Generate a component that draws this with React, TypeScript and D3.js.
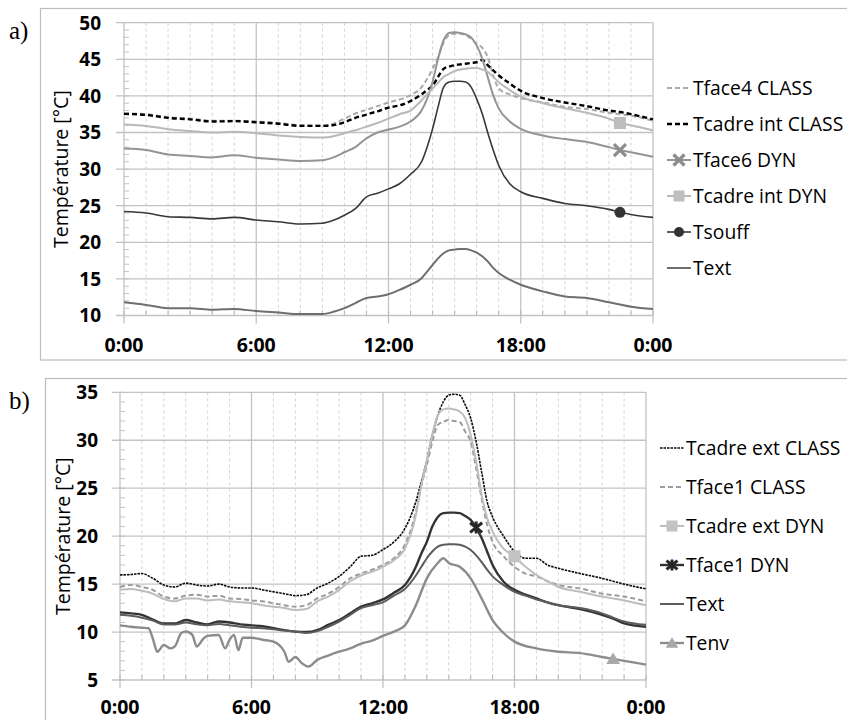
import React from "react";
import * as d3 from "d3";

// ---------- Panel a data ----------
const hoursA = [0, 1, 2, 3, 4, 5, 6, 7, 8, 9, 9.5, 10, 10.5, 11, 11.5, 12, 12.5, 13, 13.5, 13.75, 14, 14.25, 14.5, 14.75, 15, 15.25, 15.5, 15.75, 16, 16.25, 16.5, 16.75, 17, 17.5, 18, 19, 20, 21, 22, 22.5, 23, 24];
const tface4ClassA = [37.6, 37.5, 37.1, 36.9, 36.6, 36.6, 36.5, 36.3, 36.0, 35.95, 36.2, 36.9, 37.6, 38.1, 38.6, 39.1, 39.5, 40.1, 41.2, 42.3, 43.7, 45.3, 47.3, 48.3, 48.5, 48.5, 48.3, 47.8, 47.1, 46.6, 45.3, 42.8, 41.0, 40.2, 39.7, 39.1, 38.5, 38.2, 37.7, 37.5, 37.3, 36.6];
const tcadreIntClassA = [37.55, 37.4, 37.0, 36.8, 36.5, 36.55, 36.4, 36.2, 35.9, 35.9, 36.0, 36.4, 37.0, 37.45, 37.9, 38.4, 38.7, 39.3, 40.2, 40.8, 41.4, 42.6, 43.7, 44.0, 44.2, 44.3, 44.4, 44.5, 44.6, 44.9, 44.2, 43.5, 42.8, 41.7, 40.7, 39.7, 39.1, 38.6, 38.0, 37.8, 37.5, 36.8];
const tface6DynA = [32.8, 32.6, 32.0, 31.8, 31.6, 31.9, 31.55, 31.3, 31.1, 31.2, 31.6, 32.3, 33.0, 34.2, 35.0, 35.4, 35.8, 36.5, 38.0, 39.6, 41.9, 45.1, 47.6, 48.6, 48.7, 48.6, 48.4, 48.0, 46.9, 45.1, 42.6, 40.1, 38.3, 36.5, 35.5, 34.6, 34.1, 33.7, 33.0, 32.6, 32.3, 31.7];
const tcadreIntDynA = [36.1, 35.9, 35.45, 35.2, 35.0, 35.1, 34.9, 34.6, 34.4, 34.3, 34.5, 34.9, 35.3, 35.8, 36.3, 36.9, 37.5, 38.0, 39.4, 40.2, 41.0, 41.8, 42.6, 43.0, 43.4, 43.6, 43.7, 43.8, 43.8, 43.6, 43.3, 42.6, 41.9, 40.8, 39.9, 39.0, 38.3, 37.7, 36.9, 36.3, 36.0, 35.3];
const tsouffA = [24.2, 24.0, 23.5, 23.4, 23.2, 23.4, 23.05, 22.8, 22.5, 22.6, 23.0, 23.7, 24.6, 26.2, 26.7, 27.3, 28.0, 29.3, 31.0, 33.0, 35.5, 38.5, 41.2, 41.9, 42.0, 42.0, 41.9, 41.2, 39.6, 37.6, 35.0, 32.6, 30.5, 28.0, 26.9, 26.0, 25.3, 25.0, 24.5, 24.1, 23.8, 23.4];
const textA = [11.8, 11.45, 11.0, 11.0, 10.8, 10.9, 10.6, 10.4, 10.2, 10.2, 10.5, 11.0, 11.7, 12.4, 12.6, 12.9, 13.5, 14.2, 15.1, 16.0, 16.9, 17.8, 18.5, 18.9, 19.0, 19.1, 19.1, 18.9, 18.6, 18.1, 17.4, 16.5, 15.8, 14.9, 14.2, 13.3, 12.6, 12.4, 11.8, 11.5, 11.2, 10.9];

// ---------- Panel b data ----------
const hoursB = [0, 0.5, 1, 1.5, 2, 2.5, 3, 3.5, 4, 4.5, 5, 5.5, 6, 6.5, 7, 7.5, 8, 8.5, 9, 9.5, 10, 10.5, 11, 11.5, 12, 12.5, 13, 13.5, 13.75, 14, 14.25, 14.5, 14.75, 15, 15.25, 15.5, 15.75, 16, 16.25, 16.5, 16.75, 17, 17.5, 18, 18.5, 19, 19.5, 20, 21, 22, 22.5, 23, 24];
const tcadreExtClassB = [15.95, 16.0, 16.1, 15.6, 14.9, 14.7, 15.1, 14.9, 14.8, 15.0, 14.7, 14.6, 14.6, 14.4, 14.2, 14.0, 13.8, 13.9, 14.6, 15.1, 15.8, 16.8, 17.9, 18.0, 18.6, 19.4, 20.8, 23.6, 25.7, 27.9, 30.55, 32.6, 34.0, 34.7, 34.8, 34.7, 33.7, 32.3, 29.85, 26.7, 23.6, 22.0, 20.0, 18.4, 17.7, 17.7, 17.0, 16.65, 16.1, 15.6, 15.3, 15.0, 14.5];
const tface1ClassB = [14.7, 14.9, 14.7, 14.4, 13.7, 13.5, 13.8, 13.9, 13.7, 13.8, 13.5, 13.45, 13.3, 13.2, 13.0, 12.8, 12.65, 12.8, 13.5, 14.0, 14.7, 15.6, 16.1, 16.5, 17.0, 17.7, 19.1, 22.55, 25.3, 27.4, 29.85, 31.6, 31.9, 32.1, 32.0, 31.9, 30.9, 29.85, 27.1, 23.95, 21.2, 19.4, 17.9, 16.8, 16.1, 15.8, 15.3, 14.9, 14.55, 14.0, 13.85, 13.7, 13.2];
const tcadreExtDynB = [14.4, 14.5, 14.3, 14.0, 13.45, 13.2, 13.5, 13.5, 13.3, 13.4, 13.2, 13.1, 13.0, 12.8, 12.65, 12.5, 12.3, 12.4, 13.2, 13.7, 14.4, 15.3, 15.9, 16.3, 16.8, 17.5, 18.7, 22.2, 25.3, 27.9, 30.55, 32.6, 33.2, 33.3, 33.2, 33.0, 32.3, 30.55, 27.8, 24.3, 21.9, 20.5, 18.7, 17.9, 16.8, 15.95, 15.3, 14.7, 14.2, 13.7, 13.5, 13.3, 12.8];
const tface1DynB = [12.05, 11.95, 11.8, 11.3, 10.9, 10.9, 11.25, 11.0, 10.8, 11.1, 11.0, 10.8, 10.7, 10.6, 10.4, 10.2, 10.05, 10.0, 10.2, 10.75, 11.25, 11.95, 12.65, 13.0, 13.4, 14.1, 14.9, 16.8, 18.2, 19.4, 21.0, 22.0, 22.4, 22.45, 22.45, 22.4, 22.1, 21.7, 20.9, 19.8, 18.4, 17.0, 15.25, 14.4, 13.9, 13.5, 13.1, 12.8, 12.4, 11.8, 11.4, 10.9, 10.55];
const textB = [11.8, 11.7, 11.5, 11.2, 10.8, 10.8, 11.0, 10.8, 10.7, 10.85, 10.7, 10.55, 10.45, 10.4, 10.3, 10.15, 10.05, 9.9, 10.1, 10.55, 11.1, 11.8, 12.5, 12.8, 13.1, 13.8, 14.5, 15.9, 16.8, 17.7, 18.4, 18.9, 19.1, 19.15, 19.15, 19.1, 18.9, 18.55, 18.0, 17.3, 16.5, 15.8, 14.9, 14.2, 13.8, 13.4, 13.1, 12.8, 12.5, 11.95, 11.5, 11.1, 10.75];
const hoursTenvB = [0, 0.5, 1, 1.3, 1.5, 1.7, 2, 2.3, 2.5, 2.8, 3, 3.3, 3.5, 3.8, 4, 4.5, 4.8, 5, 5.2, 5.4, 5.6, 6, 6.5, 7, 7.5, 7.7, 8, 8.3, 8.6, 9, 9.5, 10, 10.5, 11, 11.5, 12, 12.5, 13, 13.5, 14, 14.5, 14.75, 15, 15.5, 16, 16.5, 17, 17.5, 18, 19, 20, 21, 22, 22.5, 23, 24];
const tenvB = [10.7, 10.55, 10.45, 10.4, 9.3, 7.95, 8.65, 8.3, 8.5, 9.9, 10.05, 9.7, 8.5, 9.3, 9.6, 9.7, 8.3, 9.2, 9.7, 8.1, 9.4, 9.4, 9.2, 9.0, 7.95, 6.9, 7.4, 6.75, 6.4, 7.1, 7.55, 7.95, 8.3, 8.8, 9.1, 9.6, 10.05, 10.7, 12.8, 15.6, 17.2, 17.7, 17.2, 16.8, 15.6, 13.5, 11.25, 9.9, 9.0, 8.3, 7.95, 7.8, 7.4, 7.2, 7.0, 6.6];

// ---------- Axes ----------
const xTickHours = [0, 6, 12, 18, 24];
const xTickLabels = ["0:00", "6:00", "12:00", "18:00", "0:00"];
const yTicksA = [10, 15, 20, 25, 30, 35, 40, 45, 50];
const yTicksB = [5, 10, 15, 20, 25, 30, 35];
const yTitle = "Température [°C]";

type Series = {
  name: string;
  hours: number[];
  values: number[];
  color: string;
  width: number;
  dash?: string;
  marker?: "square" | "circle" | "x" | "star" | "triangle";
  markerColor?: string;
  markerHour?: number;
};

const seriesA: Series[] = [
  { name: "Tface4 CLASS", hours: hoursA, values: tface4ClassA, color: "#a9a9a9", width: 2, dash: "5,3" },
  { name: "Tcadre int CLASS", hours: hoursA, values: tcadreIntClassA, color: "#000000", width: 2.4, dash: "5,3" },
  { name: "Tface6 DYN", hours: hoursA, values: tface6DynA, color: "#949494", width: 2, marker: "x", markerColor: "#8c8c8c", markerHour: 22.5 },
  { name: "Tcadre int DYN", hours: hoursA, values: tcadreIntDynA, color: "#b9b9b9", width: 2, marker: "square", markerColor: "#bebebe", markerHour: 22.5 },
  { name: "Tsouff", hours: hoursA, values: tsouffA, color: "#383838", width: 1.6, marker: "circle", markerColor: "#333333", markerHour: 22.5 },
  { name: "Text", hours: hoursA, values: textA, color: "#6e6e6e", width: 2 },
];

const seriesB: Series[] = [
  { name: "Tcadre ext CLASS", hours: hoursB, values: tcadreExtClassB, color: "#0a0a0a", width: 1.6, dash: "2.5,1" },
  { name: "Tface1 CLASS", hours: hoursB, values: tface1ClassB, color: "#9c9c9c", width: 2, dash: "5,3" },
  { name: "Tcadre ext DYN", hours: hoursB, values: tcadreExtDynB, color: "#bdbdbd", width: 2, marker: "square", markerColor: "#c2c2c2", markerHour: 18 },
  { name: "Tface1 DYN", hours: hoursB, values: tface1DynB, color: "#333333", width: 2.4, marker: "star", markerColor: "#262626", markerHour: 16.25 },
  { name: "Text", hours: hoursB, values: textB, color: "#5c5c5c", width: 2 },
  { name: "Tenv", hours: hoursTenvB, values: tenvB, color: "#8c8c8c", width: 2.4, marker: "triangle", markerColor: "#a8a8a8", markerHour: 22.5 },
];

const FONT = "'Open Sans', 'Noto Sans', sans-serif";

function Marker({ type, x, y, color, s }: { type: string; x: number; y: number; color: string; s: number }) {
  const h = s / 2;
  if (type === "square") return <rect x={x - h} y={y - h} width={s} height={s} fill={color} />;
  if (type === "circle") return <circle cx={x} cy={y} r={h} fill={color} />;
  if (type === "triangle")
    return <path d={`M${x},${y - h * 1.05} L${x + h * 1.15},${y + h * 0.85} L${x - h * 1.15},${y + h * 0.85} Z`} fill={color} />;
  if (type === "x")
    return (
      <path d={`M${x - h},${y - h} L${x + h},${y + h} M${x - h},${y + h} L${x + h},${y - h}`} stroke={color} strokeWidth={3.2} fill="none" />
    );
  // star: X + vertical bar
  return (
    <path
      d={`M${x - h},${y - h * 0.8} L${x + h},${y + h * 0.8} M${x - h},${y + h * 0.8} L${x + h},${y - h * 0.8} M${x},${y - h} L${x},${y + h}`}
      stroke={color}
      strokeWidth={3}
      fill="none"
    />
  );
}

type PanelProps = {
  series: Series[];
  left: number;
  right: number;
  top: number;
  bottom: number;
  yDomain: [number, number];
  yTicks: number[];
  legendX: number;
  legendY0: number;
  legendStep: number;
  titleX: number;
  titleSize: number;
  xLabelY: number;
  yLabelRight: number;
};

function Panel(p: PanelProps) {
  const x = d3.scaleLinear().domain([0, 24]).range([p.left, p.right]);
  const y = d3.scaleLinear().domain(p.yDomain).range([p.bottom, p.top]);
  const hoursAll = d3.range(0, 25);
  const minorY = d3.range(p.yDomain[0], p.yDomain[1] + 0.001, 1);
  const grid = "#c3c3c3";
  const line = (s: Series) =>
    d3
      .line<number>()
      .x((_, i) => x(s.hours[i]))
      .y((d) => y(d))
      .curve(d3.curveMonotoneX)(s.values) || "";

  return (
    <g>
      {hoursAll
        .filter((h) => h % 6 !== 0)
        .map((h) => (
          <line key={"mv" + h} x1={x(h)} x2={x(h)} y1={p.top} y2={p.bottom} stroke="#d3d3d3" strokeWidth={1} strokeDasharray="3,3" />
        ))}
      {p.yTicks.map((t) => (
        <line key={"hg" + t} x1={p.left - 8} x2={p.right} y1={y(t)} y2={y(t)} stroke={grid} strokeWidth={1.3} />
      ))}
      {xTickHours.map((h) => (
        <line key={"vg" + h} x1={x(h)} x2={x(h)} y1={p.top} y2={p.bottom + 8} stroke={grid} strokeWidth={1.3} />
      ))}
      {minorY.map((t) => (
        <line key={"my" + t} x1={p.left} x2={p.left + 5} y1={y(t)} y2={y(t)} stroke={grid} strokeWidth={1} />
      ))}
      {hoursAll.map((h) => (
        <line key={"mx" + h} x1={x(h)} x2={x(h)} y1={p.bottom} y2={p.bottom - 5} stroke="#b5b5b5" strokeWidth={1} />
      ))}
      {p.yTicks.map((t) => (
        <text key={"yl" + t} x={p.yLabelRight} y={y(t)} dy="0.36em" textAnchor="end" fontFamily={FONT} fontWeight={700} fontSize={19} fill="#000">
          {t}
        </text>
      ))}
      {xTickHours.map((h, i) => (
        <text key={"xl" + i} x={x(h)} y={p.xLabelY} textAnchor="middle" fontFamily={FONT} fontWeight={700} fontSize={19.5} fill="#000">
          {xTickLabels[i]}
        </text>
      ))}
      <text
        transform={`translate(${p.titleX},${(p.top + p.bottom) / 2}) rotate(-90)`}
        textAnchor="middle"
        dy="0.35em"
        fontFamily={FONT}
        fontSize={p.titleSize}
        fill="#000"
      >
        {yTitle}
      </text>
      {p.series.map((s) => (
        <path key={"s" + s.name} d={line(s)} fill="none" stroke={s.color} strokeWidth={s.width} strokeDasharray={s.dash} strokeLinejoin="round" />
      ))}
      {p.series
        .filter((s) => s.marker)
        .map((s) => {
          const idx = s.hours.indexOf(s.markerHour as number);
          return <Marker key={"m" + s.name} type={s.marker as string} x={x(s.hours[idx])} y={y(s.values[idx])} color={s.markerColor as string} s={s.marker === "circle" ? 11 : 12} />;
        })}
      {p.series.map((s, i) => {
        const ly = p.legendY0 + i * p.legendStep;
        const lx = p.legendX;
        return (
          <g key={"lg" + s.name}>
            <line x1={lx} x2={lx + 24} y1={ly} y2={ly} stroke={s.color} strokeWidth={s.width} strokeDasharray={s.dash} />
            {s.marker && <Marker type={s.marker} x={lx + 12} y={ly} color={s.markerColor as string} s={s.marker === "circle" ? 10 : 11} />}
            <text x={lx + 26} y={ly} dy="0.36em" fontFamily={FONT} fontSize={19.3} fill="#000">
              {s.name}
            </text>
          </g>
        );
      })}
    </g>
  );
}

export default function App() {
  return (
    <svg width={847} height={720} style={{ position: "absolute", left: 0, top: 0, background: "#fff" }}>
      <rect x={0} y={0} width={847} height={720} fill="#fff" />
      <rect x={40.5} y={8.5} width={830} height={351.5} fill="none" stroke="#bdbdbd" strokeWidth={1.2} />
      <rect x={45.5} y={378.5} width={830} height={360} fill="none" stroke="#bdbdbd" strokeWidth={1.2} />
      <text x={9} y={39} fontFamily="'Liberation Serif', 'Times New Roman', serif" fontSize={25} fill="#000">
        a)
      </text>
      <text x={9} y={409} fontFamily="'Liberation Serif', 'Times New Roman', serif" fontSize={25} fill="#000">
        b)
      </text>
      <Panel
        series={seriesA}
        left={124}
        right={653}
        top={22.7}
        bottom={315.5}
        yDomain={[10, 50]}
        yTicks={yTicksA}
        legendX={667}
        legendY0={88}
        legendStep={36}
        titleX={61}
        titleSize={19.5}
        xLabelY={352}
        yLabelRight={101}
      />
      <Panel
        series={seriesB}
        left={120}
        right={646}
        top={392.3}
        bottom={680}
        yDomain={[5, 35]}
        yTicks={yTicksB}
        legendX={660}
        legendY0={448}
        legendStep={39}
        titleX={63}
        titleSize={19.5}
        xLabelY={714}
        yLabelRight={98}
      />
    </svg>
  );
}
